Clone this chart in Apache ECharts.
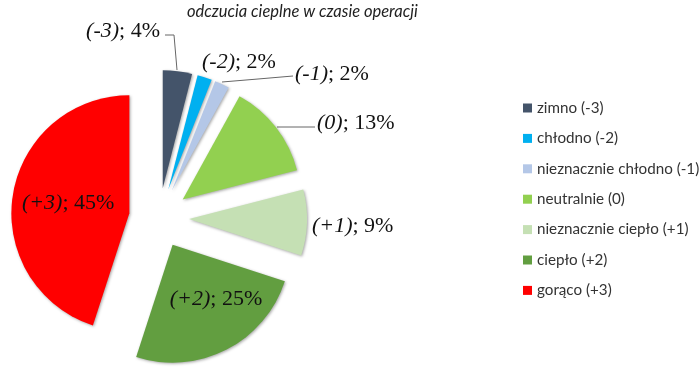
<!DOCTYPE html>
<html><head><meta charset="utf-8">
<script src="https://cdn.jsdelivr.net/npm/echarts@6/dist/echarts.min.js"></script>
<style>html,body{margin:0;padding:0;background:#fff}#c{width:700px;height:375px}</style>
</head><body><div id="c"></div>
<script>
const categories = ['zimno (-3)','chłodno (-2)','nieznacznie chłodno (-1)','neutralnie (0)','nieznacznie ciepło (+1)','ciepło (+2)','gorąco (+3)'];
const codes = ['(-3)','(-2)','(-1)','(0)','(+1)','(+2)','(+3)'];
const values = [4, 2, 2, 13, 9, 25, 45];
const colors = ['#44546A','#00B0F0','#B4C7E7','#92D050','#C5E0B4','#629E40','#FF0000'];

// label anchor (screen px, after explosion), alignment and leader line shape
const labelPos = [
  {x:160,y:31,align:'right', line:[[177,70],[174,35],[165,35]]},
  {x:202,y:62,align:'left', line:null},
  {x:295,y:74,align:'left', line:[[222,82],[258,79],[293,76]]},
  {x:317,y:123,align:'left', line:[[277,127],[296,127],[315,127]]},
  {x:312,y:226,align:'left', line:null},
  {x:216,y:299,align:'center', line:null},
  null
];

const CX = 159, CY = 218, R = 118, OFFSET = 30;
const total = values.reduce((a,b)=>a+b,0);
const mids = (()=>{let acc=0;return values.map(v=>{const m=(acc+v/2)/total*2*Math.PI;acc+=v;return m;});})();
const shifts = mids.map(m=>[Math.sin(m)*OFFSET,-Math.cos(m)*OFFSET]);

// derive pie label-line lengths that put each label's anchor at its target
function geom(i){
  const lp = labelPos[i]; if(!lp) return null;
  const dx = Math.sin(mids[i]), dy = -Math.cos(mids[i]);
  const tx = lp.x - shifts[i][0], ty = lp.y - shifts[i][1];
  const x1 = CX + R*dx, y1 = CY + R*dy;
  const len = (ty - y1)/dy;
  const x2 = x1 + dx*len;
  const side = dx < 0 ? -1 : 1;
  return {len: len, len2: side*(tx - x2)};
}

const chart = echarts.init(document.getElementById('c'), null, {renderer:'canvas'});
const data = values.map((v,i)=>{
  const g = geom(i);
  return {
    name: categories[i], value: v, selected: true,
    itemStyle: {color: colors[i]},
    label: g ? {position:'outside', distanceToLabelLine:0} : {position:'inside'},
    labelLine: g ? {show: !!labelPos[i].line, length: g.len, length2: g.len2} : {show:false}
  };
});
chart.setOption({
  animation:false,
  title:{text:'odczucia cieplne w czasie operacji', left:182, top:-2,
    textStyle:{fontFamily:'Lato', fontStyle:'italic', fontWeight:'normal', fontSize:16.5, color:'#222'}},
  legend:{orient:'vertical', left:523, top:100.5, padding:0, itemWidth:9, itemHeight:9, itemGap:15.4,
    icon:'rect', selectedMode:false,
    textStyle:{fontFamily:'Lato', fontSize:15.2, color:'#333'},
    data: categories},
  series:[{
    type:'pie', center:[CX,CY], radius:R, startAngle:90, clockwise:true,
    selectedMode:'multiple', selectedOffset:OFFSET, avoidLabelOverlap:false,
    emphasis:{disabled:true}, select:{itemStyle:{}},
    itemStyle:{shadowBlur:3, shadowColor:'rgba(0,0,0,0.35)', shadowOffsetX:1, shadowOffsetY:1},
    label:{
      formatter:(p)=>'{i|'+codes[p.dataIndex]+'}{n|; '+p.value+'%}',
      color:'#111',
      rich:{
        i:{fontFamily:'Liberation Serif', fontStyle:'italic', fontSize:22, color:'#111'},
        n:{fontFamily:'Liberation Serif', fontSize:22, color:'#111'}
      }
    },
    labelLine:{lineStyle:{color:'#666', width:1}, smooth:false},
    labelLayout:(p)=>{
      const i = p.dataIndex, lp = labelPos[i], s = shifts[i];
      if(!lp) return {hideOverlap:false};
      const r = {align:lp.align, verticalAlign:'middle', hideOverlap:false};
      if(lp.line) r.labelLinePoints = lp.line.map(pt=>[pt[0]-s[0], pt[1]-s[1]]);
      return r;
    },
    data: data
  }]
});
</script></body></html>
